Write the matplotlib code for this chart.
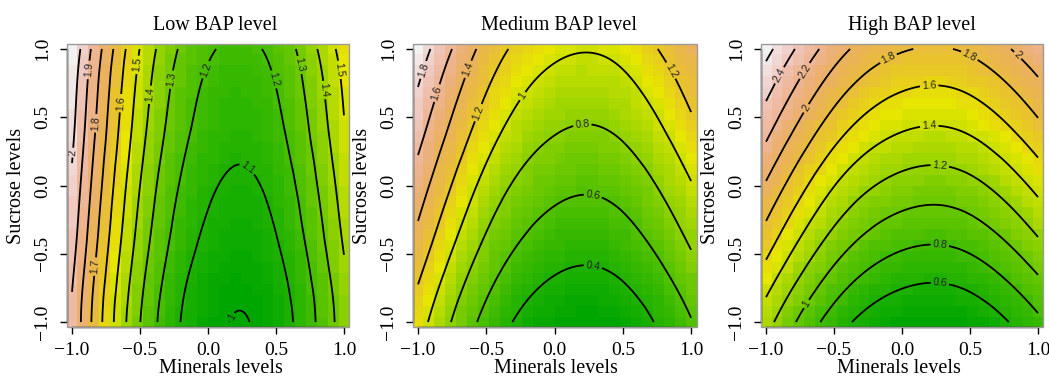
import colorsys
import numpy as np
import matplotlib
matplotlib.use("Agg")
import matplotlib.pyplot as plt
import matplotlib.tri as mtri
from matplotlib.colors import ListedColormap
from matplotlib.patches import Rectangle

plt.rcParams["font.family"] = ["Liberation Serif", "DejaVu Serif"]

# coded factor levels the surface was read at
minerals = [-1.0, -0.5, 0.0, 0.5, 1.0]
sucrose = [-1.0, -0.5, 0.0, 0.5, 1.0]

# response; rows = sucrose -1 .. 1, cols = minerals -1 .. 1
low_bap = [
    [1.886, 1.302, 1.027, 1.044, 1.353],
    [1.934, 1.351, 1.068, 1.085, 1.401],
    [1.983, 1.400, 1.117, 1.133, 1.450],
    [2.032, 1.449, 1.165, 1.182, 1.499],
    [2.081, 1.497, 1.214, 1.231, 1.548],
]
med_bap = [
    [1.091, 0.539, 0.271, 0.288, 0.590],
    [1.299, 0.736, 0.464, 0.481, 0.788],
    [1.506, 0.934, 0.657, 0.674, 0.987],
    [1.714, 1.132, 0.850, 0.868, 1.186],
    [1.921, 1.329, 1.043, 1.061, 1.384],
]
high_bap = [
    [1.276, 0.704, 0.431, 0.448, 0.757],
    [1.632, 1.060, 0.783, 0.800, 1.113],
    [1.977, 1.405, 1.128, 1.145, 1.458],
    [2.322, 1.750, 1.473, 1.490, 1.803],
    [2.667, 2.095, 1.818, 1.835, 2.148],
]

titles = ["Low BAP level", "Medium BAP level", "High BAP level"]
tick_vals = [-1.0, -0.5, 0.0, 0.5, 1.0]
tick_labels = ["\u22121.0", "\u22120.5", "0.0", "0.5", "1.0"]

levels_low = [1.0, 1.1, 1.2, 1.3, 1.4, 1.5, 1.6, 1.7, 1.8, 1.9, 2.0]
levels_med = [0.4, 0.6, 0.8, 1.0, 1.2, 1.4, 1.6, 1.8]
levels_high = [0.4, 0.6, 0.8, 1.0, 1.2, 1.4, 1.6, 1.8, 2.0, 2.2, 2.4, 2.6]

# where R put the contour labels
lab_low = [(-0.985, 0.24), (-0.873, 0.846), (-0.831, 0.456), (-0.843, -0.593),
           (-0.635, 0.602), (-0.512, 0.883), (-0.414, 0.663), (-0.255, 0.773),
           (-0.01, 0.846), (0.468, 0.773), (0.676, 0.883), (0.86, 0.70),
           (0.958, 0.846), (0.26, 0.089), (0.15, -0.949)]
lab_med = [(-0.958, 0.846), (-0.86, 0.676), (-0.62, 0.846), (-0.547, 0.529),
           (-0.229, 0.651), (0.204, 0.437), (0.28, -0.08), (0.28, -0.593),
           (0.86, 0.846)]
lab_high = [(-0.885, 0.798), (-0.726, 0.846), (-0.706, 0.566), (-0.1, 0.93),
            (0.498, 0.956), (0.865, 0.968), (0.2, 0.729), (0.2, 0.437),
            (0.278, 0.146), (-0.714, -0.861), (0.278, -0.434), (0.278, -0.727)]


def terrain_colors(n):
    # same recipe as R's terrain.colors()
    k = n // 2
    cols = [colorsys.hsv_to_rgb(h, 1.0, v)
            for h, v in zip(np.linspace(4/12, 2/12, k), np.linspace(0.65, 0.9, k))]
    m = n - k + 1
    for h, s, v in zip(np.linspace(2/12, 0, m)[1:], np.linspace(1, 0, m)[1:],
                       np.linspace(0.9, 0.95, m)[1:]):
        cols.append(colorsys.hsv_to_rgb(h, s, v))
    return ListedColormap(cols)


cmap = terrain_colors(50)

fig = plt.figure(figsize=(10.49, 3.78), dpi=100)
boxes = [[0.0635, 0.1336, 0.2696, 0.7513],
         [0.3933, 0.1336, 0.2707, 0.7513],
         [0.7251, 0.1336, 0.2696, 0.7513]]
title_x = [0.525, 0.514, 0.535]
xlabel_x = [0.546, 0.505, 0.489]

panels = [(low_bap, levels_low, lab_low), (med_bap, levels_med, lab_med),
          (high_bap, levels_high, lab_high)]

X, Y = np.meshgrid(minerals, sucrose)
tri = mtri.Triangulation(X.ravel(), Y.ravel())
gx = np.linspace(-1, 1, 26)
GX, GY = np.meshgrid(gx, gx)
fx = np.linspace(-1, 1, 201)
FX, FY = np.meshgrid(fx, fx)

for i, (z, levels, labpts) in enumerate(panels):
    ax = fig.add_axes(boxes[i])
    interp = mtri.CubicTriInterpolator(tri, np.array(z).ravel(), kind="min_E")
    img = interp(GX, GY)
    ax.pcolormesh(gx, gx, img, cmap=cmap, shading="nearest",
                  vmin=img.min(), vmax=img.max(), edgecolors="none", linewidth=0)
    fine = interp(FX, FY)
    cs = ax.contour(fx, fx, fine, levels=levels, colors="black", linewidths=1.3)
    with plt.rc_context({"font.family": ["Liberation Sans", "DejaVu Sans"]}):
        ax.clabel(cs, manual=labpts, inline=True, inline_spacing=2,
                  fontsize=7.5, fmt=lambda v: f"{v:g}")
    for t in cs.labelTexts:
        t.set_color("#222222")

    ax.set_xlim(-1.04, 1.04)
    ax.set_ylim(-1.04, 1.04)
    ax.set_xticks(tick_vals)
    ax.set_xticklabels(tick_labels)
    ax.set_yticks(tick_vals)
    ax.set_yticklabels(tick_labels, rotation=90, va="center")
    ax.tick_params(length=5, width=1, labelsize=14, pad=5.5, direction="out")
    ax.tick_params(axis="y", pad=6)

    for side in ["top", "right"]:
        ax.spines[side].set_visible(False)
    for side in ["left", "bottom"]:
        ax.spines[side].set_bounds(-1, 1)
        ax.spines[side].set_linewidth(1)
    ax.add_patch(Rectangle((0, 0), 1, 1, transform=ax.transAxes, fill=False,
                           edgecolor="#9a9a9a", linewidth=1, clip_on=False, zorder=5))

    ax.set_title(titles[i], fontsize=14.5, x=title_x[i], pad=9.5)
    ax.set_xlabel("Minerals levels", fontsize=14.5, x=xlabel_x[i], labelpad=0)
    ax.set_ylabel("Sucrose levels", fontsize=14.5, labelpad=6)

fig.savefig("out.png", dpi=100)
